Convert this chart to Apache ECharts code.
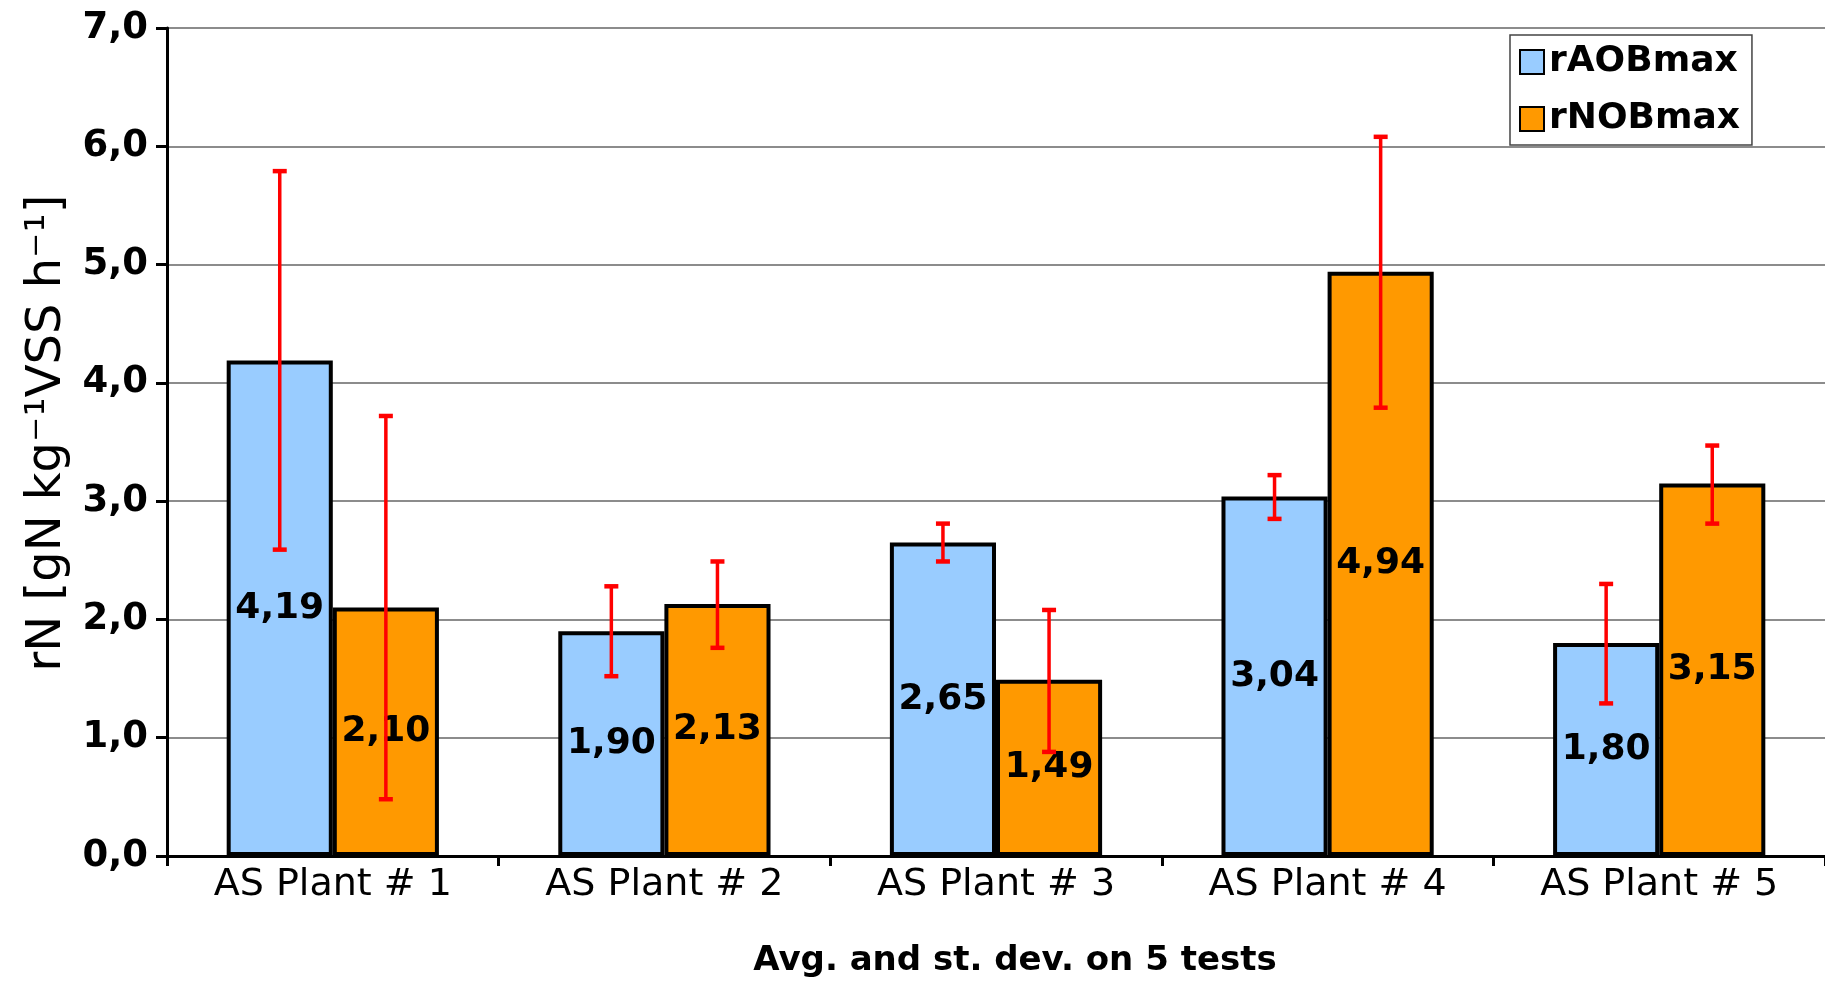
<!DOCTYPE html>
<html>
<head>
<meta charset="utf-8">
<script src="https://cdn.jsdelivr.net/npm/echarts@6/dist/echarts.min.js"></script>
<style>html,body{margin:0;padding:0;background:#fff;}#c{width:1825px;height:983px;}</style>
</head>
<body>
<div id="c"></div>
<script>
const categories = ['AS Plant # 1', 'AS Plant # 2', 'AS Plant # 3', 'AS Plant # 4', 'AS Plant # 5'];
const rAOBmax = [4.19, 1.90, 2.65, 3.04, 1.80];
const rNOBmax = [2.10, 2.13, 1.49, 4.94, 3.15];
const rAOBlow = [2.59, 1.52, 2.49, 2.85, 1.29];
const rAOBhigh = [5.79, 2.28, 2.81, 3.22, 2.30];
const rNOBlow = [0.48, 1.76, 0.88, 3.79, 2.81];
const rNOBhigh = [3.72, 2.49, 2.08, 6.08, 3.47];
const yTicks = [0, 1, 2, 3, 4, 5, 6, 7];

const FONT = 'DejaVu Sans';
const CAT_GAP = 0.36;

function errItem(sign) {
  return function (params, api) {
    const c = api.value(0);
    const lo = api.coord([c, api.value(1)]);
    const hi = api.coord([c, api.value(2)]);
    const band = api.size([1, 0])[0];
    const bw = band * (1 - CAT_GAP) / 2;
    const cx = lo[0] + sign * bw / 2;
    const hw = 7;
    const st = { stroke: '#FF0000', lineWidth: 3.5 };
    const capSt = { stroke: '#FF0000', lineWidth: 4.5 };
    return {
      type: 'group',
      children: [
        { type: 'line', shape: { x1: cx, y1: lo[1], x2: cx, y2: hi[1] }, style: st },
        { type: 'line', shape: { x1: cx - hw, y1: lo[1], x2: cx + hw, y2: lo[1] }, style: capSt },
        { type: 'line', shape: { x1: cx - hw, y1: hi[1], x2: cx + hw, y2: hi[1] }, style: capSt }
      ]
    };
  };
}

const fmt2 = v => v.toFixed(2).replace('.', ',');
const labelCfg = {
  show: true, position: 'inside', color: '#000', fontFamily: FONT, fontWeight: 'bold', fontSize: 36,
  formatter: p => fmt2(p.value)
};

const chart = echarts.init(document.getElementById('c'), null, { renderer: 'canvas' });
chart.setOption({
  animation: false,
  backgroundColor: '#fff',
  grid: { left: 167, top: 28, right: 0, bottom: 121, containLabel: false },
  legend: {
    data: ['rAOBmax', 'rNOBmax'],
    orient: 'vertical', left: 1510, top: 35,
    icon: 'rect', itemWidth: 24, itemHeight: 24, itemGap: 21,
    padding: [9, 12, 8, 9],
    borderColor: '#444', borderWidth: 1.5, backgroundColor: '#fff',
    textStyle: { fontFamily: FONT, fontWeight: 'bold', fontSize: 36, color: '#000', lineHeight: 36 }
  },
  xAxis: {
    type: 'category', data: categories,
    name: 'Avg. and st. dev. on 5 tests', nameLocation: 'middle', nameGap: 88,
    nameTextStyle: { fontFamily: FONT, fontWeight: 'bold', fontSize: 34, color: '#000', padding: [0, 0, 0, 38] },
    axisLine: { lineStyle: { color: '#000', width: 3 } },
    axisTick: { show: true, length: 10, lineStyle: { color: '#000', width: 3 } },
    axisLabel: { fontFamily: FONT, fontSize: 38, color: '#000', margin: 10 },
    splitLine: { show: false }
  },
  yAxis: {
    type: 'value', min: yTicks[0], max: yTicks[yTicks.length - 1], interval: 1,
    name: 'rN [gN kg⁻¹VSS h⁻¹]', nameLocation: 'middle', nameGap: 95,
    nameTextStyle: { fontFamily: FONT, fontSize: 48, color: '#000', padding: [0, 0, 0, 18] },
    axisLine: { show: true, lineStyle: { color: '#000', width: 3 } },
    axisTick: { show: true, length: 11, lineStyle: { color: '#000', width: 3 } },
    axisLabel: { fontFamily: FONT, fontWeight: 'bold', fontSize: 37, color: '#000', margin: 19,
      formatter: v => v.toFixed(1).replace('.', ',') },
    splitLine: { show: true, lineStyle: { color: '#666', width: 1.5 } }
  },
  series: [
    { name: 'rAOBmax', type: 'bar', data: rAOBmax, barGap: '0%', barCategoryGap: (CAT_GAP * 100) + '%',
      itemStyle: { color: '#99CCFF', borderColor: '#000', borderWidth: 4 }, label: labelCfg },
    { name: 'rNOBmax', type: 'bar', data: rNOBmax, barGap: '0%', barCategoryGap: (CAT_GAP * 100) + '%',
      itemStyle: { color: '#FF9900', borderColor: '#000', borderWidth: 4 }, label: labelCfg },
    { name: 'errA', type: 'custom', z: 10, renderItem: errItem(-1),
      encode: { x: 0, y: [1, 2] },
      data: categories.map((c, i) => [i, rAOBlow[i], rAOBhigh[i]]) },
    { name: 'errN', type: 'custom', z: 10, renderItem: errItem(1),
      encode: { x: 0, y: [1, 2] },
      data: categories.map((c, i) => [i, rNOBlow[i], rNOBhigh[i]]) }
  ]
});
</script>
</body>
</html>
